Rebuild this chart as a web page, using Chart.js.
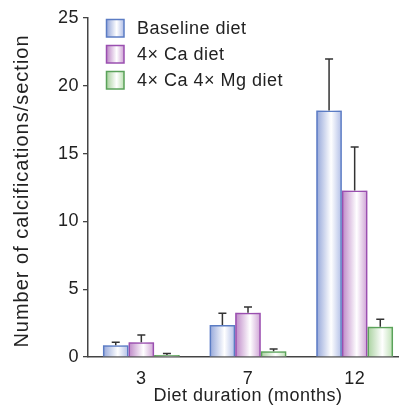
<!DOCTYPE html>
<html>
<head>
<meta charset="utf-8">
<script src="https://cdn.jsdelivr.net/npm/chart.js@4"></script>
<style>
  html, body { margin: 0; padding: 0; background: #fff; overflow: hidden; }
  #wrap { width: 399px; height: 417px; overflow: hidden; }
  canvas { display: block; }
</style>
</head>
<body>
<div id="wrap"><canvas id="myChart" width="408" height="417"></canvas></div>
<script>
// values (mean and upper error = SEM)
const categories = ['3', '7', '12'];
const seriesNames = ['Baseline diet', '4\u00d7 Ca diet', '4\u00d7 Ca 4\u00d7 Mg diet'];
const baseline = [0.86, 2.36, 18.18];
const baselineErr = [0.22, 0.86, 3.8];
const ca = [1.08, 3.27, 12.27];
const caErr = [0.54, 0.42, 3.21];
const caMg = [0.15, 0.42, 2.24];
const caMgErr = [0.1, 0.17, 0.54];
const yTicks = [0, 5, 10, 15, 20, 25];

const FONT = 'Liberation Sans, Arial, Helvetica, sans-serif';
const TEXT = '#222';

// border colour, gradient edge colours
const styles = [
  { border: '#5b7cc4', left: '#93a5d9', right: '#b0bde6' },
  { border: '#9a4fb0', left: '#bc85c6', right: '#cda0d4' },
  { border: '#5aa25a', left: '#a6d09c', right: '#bde0b4' },
];
const errors = [baselineErr, caErr, caMgErr];

function barGradient(ctx, x0, x1, s) {
  const g = ctx.createLinearGradient(x0, 0, x1, 0);
  g.addColorStop(0, s.left);
  g.addColorStop(0.58, '#ffffff');
  g.addColorStop(1, s.right);
  return g;
}

const decor = {
  id: 'decor',
  beforeDraw(chart) {
    chart.ctx.letterSpacing = '0.5px';
  },
  beforeDatasetsDraw(chart) {
    const ctx = chart.ctx;
    ctx.save();
    chart.data.datasets.forEach((ds, i) => {
      chart.getDatasetMeta(i).data.forEach(el => {
        const { x, y, base, width } = el.getProps(['x', 'y', 'base', 'width'], true);
        ctx.fillStyle = barGradient(ctx, x - width / 2, x + width / 2, styles[i]);
        ctx.fillRect(x - width / 2, y, width, base - y);
      });
    });
    ctx.restore();
  },
  afterDatasetsDraw(chart) {
    const ctx = chart.ctx;
    const yScale = chart.scales.y;
    ctx.save();
    ctx.strokeStyle = '#333';
    ctx.lineWidth = 1.5;
    chart.data.datasets.forEach((ds, i) => {
      chart.getDatasetMeta(i).data.forEach((el, j) => {
        const { x, y } = el.getProps(['x', 'y'], true);
        const top = yScale.getPixelForValue(ds.data[j] + errors[i][j]);
        ctx.beginPath();
        ctx.moveTo(x, y);
        ctx.lineTo(x, top);
        ctx.moveTo(x - 4, top);
        ctx.lineTo(x + 4, top);
        ctx.stroke();
      });
    });
    ctx.restore();
  },
  afterDraw(chart) {
    const ctx = chart.ctx;
    ctx.save();
    // legend
    ctx.font = '18px ' + FONT;
    ctx.letterSpacing = '0.5px';
    ctx.textBaseline = 'middle';
    ctx.textAlign = 'left';
    chart.data.datasets.forEach((ds, i) => {
      const bx = 106.5, by = 19.5 + 26 * i, bw = 17.5;
      ctx.fillStyle = barGradient(ctx, bx, bx + bw, styles[i]);
      ctx.fillRect(bx, by, bw, bw);
      ctx.strokeStyle = styles[i].border;
      ctx.lineWidth = 1.5;
      ctx.strokeRect(bx, by, bw, bw);
      ctx.fillStyle = TEXT;
      ctx.fillText(ds.label, 137, by + bw / 2 + 1);
    });
    // y axis title
    ctx.translate(22, 191);
    ctx.rotate(-Math.PI / 2);
    ctx.font = '20px ' + FONT;
    ctx.letterSpacing = '1px';
    ctx.textAlign = 'center';
    ctx.fillText('Number of calcifications/section', 0, 0);
    ctx.restore();
  }
};

const ctx = document.getElementById('myChart').getContext('2d');
new Chart(ctx, {
  type: 'bar',
  data: {
    labels: categories,
    datasets: [
      { label: seriesNames[0], data: baseline },
      { label: seriesNames[1], data: ca },
      { label: seriesNames[2], data: caMg },
    ].map((d, i) => Object.assign(d, {
      backgroundColor: 'rgba(0,0,0,0)',
      borderColor: styles[i].border,
      borderWidth: 1.5,
      categoryPercentage: 0.72,
      barPercentage: 1.0,
    })),
  },
  options: {
    responsive: false,
    animation: false,
    devicePixelRatio: 1,
    layout: { padding: { top: 18, right: 0, bottom: 0, left: 0 } },
    plugins: {
      legend: { display: false },
      tooltip: { enabled: false },
    },
    scales: {
      x: {
        z: 1,
        grid: { display: false, drawTicks: false },
        border: { display: true, color: '#444', width: 1.5 },
        ticks: { color: TEXT, font: { family: FONT, size: 18 }, padding: 11 },
        title: {
          display: true,
          text: 'Diet duration (months)',
          color: TEXT,
          font: { family: FONT, size: 18 },
          padding: { top: 0, bottom: 10 },
        },
        afterFit(scale) { scale.height = 60; },
      },
      y: {
        min: 0,
        max: 25,
        afterBuildTicks(scale) { scale.ticks = yTicks.map(v => ({ value: v })); },
        grid: { drawOnChartArea: false, tickLength: 5, color: '#444', lineWidth: 1.3 },
        border: { display: true, color: '#444', width: 1.5 },
        ticks: { color: TEXT, font: { family: FONT, size: 18 }, padding: 4 },
        afterFit(scale) { scale.width = 88; },
      },
    },
  },
  plugins: [decor],
});
</script>
</body>
</html>
